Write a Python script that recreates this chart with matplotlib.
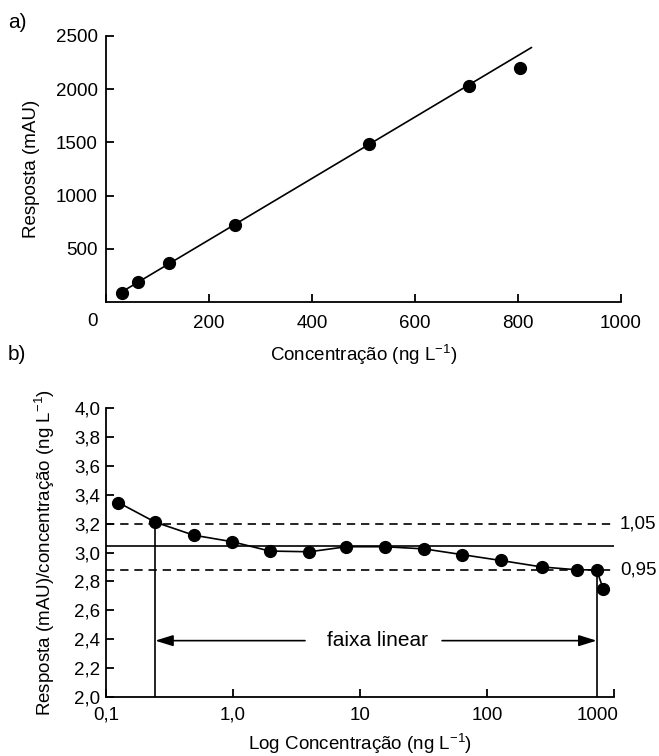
import matplotlib
matplotlib.use("Agg")
import matplotlib.pyplot as plt
from matplotlib.transforms import ScaledTranslation
import numpy as np

plt.rcParams['font.family'] = ['Liberation Sans', 'DejaVu Sans']
plt.rcParams['font.size'] = 13.5

# ---- panel a) data ----
conc_a = [31, 62, 123, 251, 510, 704, 804]
resp_a = [87, 192, 369, 725, 1481, 2029, 2196]
fit_slope = 2.887
fit_intercept = 6.6
fit_range = [32, 826]
xticks_a = [0, 200, 400, 600, 800, 1000]
xticklabels_a = ['0', '200', '400', '600', '800', '1000']
yticks_a = [500, 1000, 1500, 2000, 2500]

# ---- panel b) data ----
conc_b = [0.125, 0.244, 0.49, 0.98, 1.95, 4.0, 7.8, 15.6, 32, 64, 128, 270, 515, 730, 820]
ratio_b = [3.346, 3.21, 3.12, 3.075, 3.01, 3.005, 3.04, 3.04, 3.025, 2.985, 2.945, 2.90, 2.88, 2.88, 2.75]
mean_ratio = 3.042
upper_ratio = 3.198
lower_ratio = 2.88
upper_label = '1,05'
lower_label = '0,95'
lin_low = 0.244
lin_low_y = 3.21
lin_high = 730
lin_high_y = 2.88
xticks_b = [0.1, 1, 10, 100, 1000]
xticklabels_b = ['0,1', '1,0', '10', '100', '1000']
yticks_b = [2.0, 2.2, 2.4, 2.6, 2.8, 3.0, 3.2, 3.4, 3.6, 3.8, 4.0]

fig = plt.figure(figsize=(6.59, 7.56), dpi=100)

lw_axis = 1.3
lw_line = 1.2

# ---------- panel a ----------
ax1 = fig.add_axes([106/659, 1-302/756, (621-106)/659, (302-36)/756])
xf = np.array(fit_range)
ax1.plot(xf, fit_slope*xf + fit_intercept, color='black', lw=lw_line)
ax1.plot(conc_a, resp_a, 'o', color='black', ms=8.5)
ax1.set_xlim(0, 1000)
ax1.set_ylim(0, 2500)
ax1.set_xticks(xticks_a)
ax1.set_xticklabels(xticklabels_a)
ax1.set_yticks(yticks_a)
ax1.spines['top'].set_visible(False)
ax1.spines['right'].set_visible(False)
for s in ['left', 'bottom']:
    ax1.spines[s].set_linewidth(lw_axis)
ax1.tick_params(direction='in', length=6, width=lw_axis, pad=6)
ax1.tick_params(axis='x', pad=9)
lab0 = ax1.get_xticklabels()[0]
lab0.set_transform(lab0.get_transform() + ScaledTranslation(-13/100, 2/100, fig.dpi_scale_trans))
ax1.set_ylabel('Resposta (mAU)')
ax1.yaxis.set_label_coords(-0.128, 0.5)
ax1.set_xlabel('Concentração (ng L$\\mathregular{^{-1}}$)')
ax1.xaxis.set_label_coords(0.5, -0.155)
fig.text(8/659, 1-22/756, 'a)', fontsize=15, ha='left', va='center')

# ---------- panel b ----------
ax2 = fig.add_axes([106/659, 1-697/756, (614-106)/659, (697-408)/756])
ax2.set_xscale('log')
ax2.set_xlim(0.1, 1000)
ax2.set_ylim(2.0, 4.0)
ax2.axhline(upper_ratio, color='black', lw=lw_line, ls=(0, (5, 3.5)))
ax2.axhline(lower_ratio, color='black', lw=lw_line, ls=(0, (5, 3.5)))
ax2.axhline(mean_ratio, color='black', lw=lw_line)
ax2.plot(conc_b, ratio_b, '-o', color='black', lw=lw_line, ms=8.5)
ax2.plot([lin_low, lin_low], [2.0, lin_low_y], color='black', lw=lw_line)
ax2.plot([lin_high, lin_high], [2.0, lin_high_y], color='black', lw=lw_line)

arrow_y = 2.39
apr = dict(arrowstyle='-|>,head_length=0.9,head_width=0.28', color='black', lw=lw_line,
           mutation_scale=12, shrinkA=0, shrinkB=0)
ax2.annotate('', xy=(lin_low, arrow_y), xytext=(3.69, arrow_y), arrowprops=apr)
ax2.annotate('', xy=(lin_high, arrow_y), xytext=(44.3, arrow_y), arrowprops=apr)
ax2.text(13.7, arrow_y, 'faixa linear', ha='center', va='center', fontsize=15)

ax2.text(1.012, upper_ratio, upper_label, transform=ax2.get_yaxis_transform(),
         ha='left', va='center')
ax2.text(1.012, lower_ratio, lower_label, transform=ax2.get_yaxis_transform(),
         ha='left', va='center')

ax2.set_xticks(xticks_b)
ax2.set_xticklabels(xticklabels_b)
ax2.xaxis.set_minor_locator(matplotlib.ticker.NullLocator())
ax2.set_yticks(yticks_b)
ax2.set_yticklabels([f'{v:.1f}'.replace('.', ',') for v in yticks_b])
ax2.spines['top'].set_visible(False)
ax2.spines['right'].set_visible(False)
for s in ['left', 'bottom']:
    ax2.spines[s].set_linewidth(lw_axis)
ax2.tick_params(direction='in', length=6, width=lw_axis, pad=4)
ax2.tick_params(axis='x', pad=7)
xl = ax2.get_xticklabels()
xl[-1].set_horizontalalignment('right')
xl[-1].set_transform(xl[-1].get_transform() + ScaledTranslation(4/100, 0, fig.dpi_scale_trans))
ax2.set_ylabel('Resposta (mAU)/concentração (ng L$\\mathregular{^{-1}}$)')
ax2.yaxis.set_label_coords(-0.096, 0.5)
ax2.set_xlabel('Log Concentração (ng L$\\mathregular{^{-1}}$)')
ax2.xaxis.set_label_coords(0.5, -0.12)
fig.text(8/659, 1-354/756, 'b)', fontsize=15, ha='left', va='center')

fig.savefig('out.png', dpi=100)
